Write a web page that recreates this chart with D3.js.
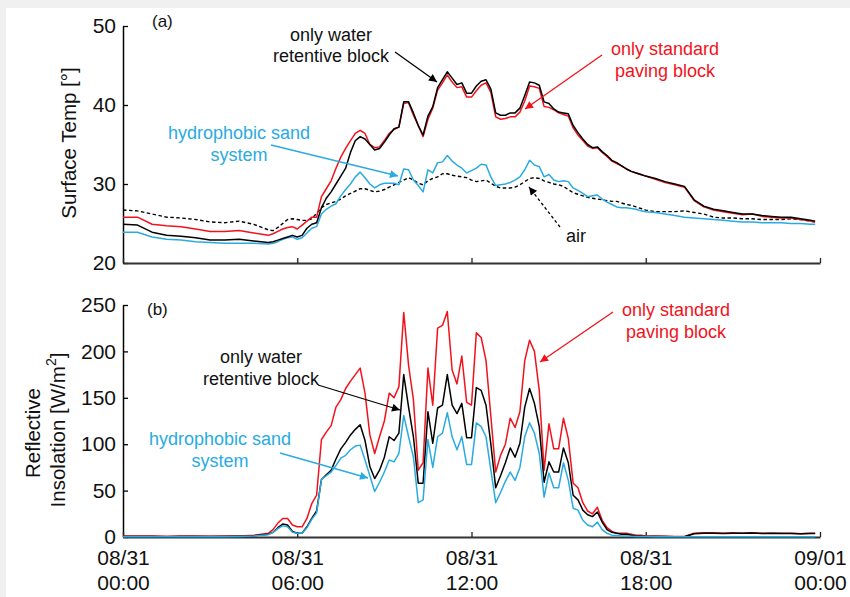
<!DOCTYPE html>
<html><head><meta charset="utf-8">
<script src="https://cdn.jsdelivr.net/npm/d3@7/dist/d3.min.js"></script>
<style>
html,body{margin:0;padding:0;background:#f0f0f0;}
svg{display:block;font-family:"Liberation Sans",Arial,Helvetica,sans-serif;}
</style></head>
<body>
<svg id="chart" width="850" height="597"></svg>
<script>
// time in minutes from 08/31 00:00
const times = [0,30,60,90,120,150,180,210,240,270,
 300,310,320,330,340,350,360,370,380,390,400,410,420,430,440,450,460,470,
 480,490,500,510,520,530,540,550,560,570,580,590,600,610,620,630,640,650,
 660,670,680,690,700,710,720,730,740,750,760,770,780,790,800,810,820,830,
 840,850,860,870,880,890,900,910,920,930,940,950,960,970,980,990,1000,1010,
 1020,1030,1040,1050,1060,1070,1080,
 1100,1120,1140,1160,1180,1200,1220,1240,1260,1280,1300,1320,1340,1360,1380,1400,1420,1430];

// (a) surface temperature
const surfStd = [25.8,25.8,24.9,24.7,24.6,24.3,24.0,24.0,24.1,23.8,
 23.5,23.7,24.0,24.3,24.5,24.6, 24.3,24.8,25.3,25.8,25.8,28.4,
 29.4,30.4,32.0,33.4,34.5,35.5, 36.4,36.8,36.4,35.0,34.6,34.7,
 35.5,36.4,36.9,37.2,40.2,40.3, 38.7,37.4,36.0,38.2,39.6,41.9,
 42.8,43.8,42.9,42.2,42.3,41.0, 41.0,41.8,42.5,42.8,41.6,38.5,
 38.2,38.3,38.5,38.5,39.1,40.5, 42.4,42.3,42.1,39.8,39.7,39.4,
 39.0,38.8,38.6,37.1,36.2,35.5, 34.8,34.5,34.6,34.0,33.5,32.9,
 32.6,32.3,31.9,31.6,31.4,31.2, 31.0,
 30.6,30.2,29.9,29.6,27.9,27.1,26.7,26.5,26.3,26.1,26.2,25.9,25.8,25.7,25.7,25.5,25.3,25.2];
const surfWater = [24.9,24.8,23.9,23.5,23.4,23.2,22.9,22.9,23.0,22.8,
 22.6,22.7,22.9,23.1,23.3,23.5, 23.3,23.5,24.4,24.9,25.1,27.0,
 28.2,29.0,30.0,31.0,32.0,34.0, 35.5,36.0,35.7,35.0,34.3,34.5,
 35.3,36.2,37.0,37.2,40.4,40.4, 39.0,37.4,36.2,38.6,39.8,42.2,
 43.2,44.2,43.4,42.6,42.8,41.5, 41.5,42.4,43.0,43.2,42.0,39.0,
 38.7,38.7,39.0,39.0,39.6,41.2, 42.9,42.8,42.5,40.4,40.2,39.5,
 39.1,39.0,38.9,37.4,36.5,35.7, 35.0,34.6,34.7,34.1,33.6,33.0,
 32.7,32.3,31.9,31.6,31.4,31.2, 31.0,
 30.7,30.3,30.0,29.7,28.0,27.2,26.8,26.6,26.4,26.2,26.2,26.0,25.9,25.8,25.8,25.6,25.4,25.3];
const surfSand = [23.9,23.9,23.3,23.0,22.9,22.7,22.6,22.5,22.5,22.5,
 22.4,22.5,22.7,23.0,23.2,23.3, 23.0,23.2,23.8,24.4,24.6,26.2,
 26.8,27.2,27.5,28.5,29.3,30.0, 30.9,31.5,30.8,30.0,29.5,29.9,
 30.1,30.1,30.1,29.9,31.9,31.8, 30.5,29.8,29.0,31.8,31.4,32.7,
 32.8,33.6,32.9,32.4,32.0,31.4, 31.7,32.0,32.5,32.4,30.9,29.8,
 29.9,30.0,30.2,30.5,30.9,31.8, 33.0,32.4,32.2,30.9,31.2,30.5,
 30.3,30.4,30.3,29.5,29.2,28.8, 28.4,28.5,28.6,28.1,27.7,27.4,
 27.1,27.0,27.0,26.9,26.8,26.6, 26.5,
 26.4,26.2,26.0,25.8,25.7,25.6,25.5,25.4,25.3,25.2,25.2,25.1,25.1,25.1,25.0,25.0,24.9,24.9];
const airTemp = [26.7,26.6,26.2,25.8,25.7,25.5,25.2,25.1,25.3,24.9,
 24.2,24.1,24.5,25.0,25.5,25.6, 25.5,25.4,25.4,25.6,26.3,27.0,
 27.4,27.6,27.8,28.1,28.5,28.8, 29.1,29.4,29.4,29.2,29.0,29.1,
 29.3,29.6,29.9,30.2,30.5,30.8, 30.5,30.1,29.9,30.4,30.7,30.9,
 31.3,31.3,31.1,31.0,30.9,30.8, 30.5,30.3,30.4,30.5,30.1,29.7,
 29.5,29.5,29.5,29.6,29.9,30.3, 30.7,30.8,30.7,30.4,30.2,30.0,
 29.9,29.7,29.3,28.9,28.7,28.5, 28.3,28.2,28.1,28.0,27.9,27.8,
 27.8,27.6,27.4,27.3,27.1,26.9, 26.7,
 26.5,26.5,26.5,26.6,26.4,26.2,25.8,25.7,25.7,25.6,25.6,25.5,25.5,25.5,25.6,25.5,25.3,25.2];

// (b) reflective insolation
const reflStd = [1,1.2,1,0.8,1,1,0.8,1,1.2,1.8,
 4,8,15,20,20,13, 11,11,20,36,45,105,
 113,120,140,148,160,168, 175,182,155,110,90,108,
 125,155,150,162,242,185, 148,72,80,182,142,225,
 228,243,180,165,195,145, 142,220,215,190,130,70,
 88,100,128,118,135,190, 212,200,158,72,122,95,
 95,128,106,58,53,37, 28,25,32,18,10,6,
 4,4,4,3,2,2, 1,
 1,0.8,0.5,0.5,4,4.5,4.5,4,4.5,4,4.5,4,4,4,4,3.5,4,4];
const reflWater = [0.5,0.6,0.5,0.4,0.5,0.5,0.5,0.6,0.8,1.2,
 3,5,10,14,13,6, 4,4,11,20,28,62,
 67,72,84,95,102,110, 116,121,104,76,63,72,
 86,108,104,112,175,140, 108,58,58,135,101,139,
 142,175,142,133,144,107, 107,161,158,142,100,53,
 66,80,96,86,101,140, 160,144,119,59,81,70,
 70,96,80,45,40,29, 24,22,27,16,8,5,
 4,3,3,2,1,1, 0.5,
 0.5,0.5,0.3,0.3,3.5,4,4,3.8,4,4,4.2,3.8,4,3.8,3.8,3.5,3.8,3.8];
const reflSand = [0.3,0.3,0.3,0.3,0.3,0.3,0.3,0.4,0.6,1,
 2.5,5,9,12,11,5, 4,4,10,19,26,62,
 66,70,77,85,88,94, 98,99,83,66,49,59,
 70,83,81,90,131,108, 86,37,40,105,75,108,
 112,134,108,94,108,78, 78,123,119,108,72,37,
 48,60,70,61,75,108, 123,112,90,43,69,53,
 53,80,61,31,29,18, 13,11,16,8,4,2,
 1.5,1,1,0.8,0.6,0.5, 0.5,
 0.3,0.3,0.3,0.3,0.3,0.3,0.3,0.3,0.3,0.3,0.3,0.3,0.3,0.3,0.3,0.3,0.3,0.3];

const xTicks = [0,360,720,1080,1440];
const xTickLabels = [["08/31","00:00"],["08/31","06:00"],["08/31","12:00"],["08/31","18:00"],["09/01","00:00"]];
const yTicksA = [20,30,40,50];
const yTicksB = [0,50,100,150,200,250];

const RED = "#f2121b", BLUE = "#29abe2", BLACK = "#000";
const FONT = "Liberation Sans, Arial, sans-serif";

const svg = d3.select("#chart");
svg.append("rect").attr("x",6).attr("y",8).attr("width",844).attr("height",589).attr("fill","#fff");

const x = d3.scaleLinear().domain([0,1440]).range([123,820]);
const yA = d3.scaleLinear().domain([20,50]).range([263,26]);
const yB = d3.scaleLinear().domain([0,250]).range([537,305]);

function axes(y, ticks, showX){
  const gy = svg.append("g").attr("transform","translate(123,0)")
    .call(d3.axisLeft(y).tickValues(ticks).tickSize(-5).tickSizeOuter(0).tickPadding(7));
  gy.select(".domain").attr("stroke","#000").attr("stroke-width",1.5);
  gy.selectAll(".tick line").attr("stroke","#000").attr("stroke-width",1.3);
  gy.selectAll(".tick text").attr("font-size",21).attr("fill","#111").attr("font-family",FONT);
  const y0 = y.range()[0];
  const gx = svg.append("g").attr("transform",`translate(0,${y0})`)
    .call(d3.axisBottom(x).tickValues(xTicks).tickSize(-5).tickSizeOuter(0).tickFormat(()=>""));
  gx.select(".domain").attr("stroke","#333").attr("stroke-width",2);
  gx.selectAll(".tick line").attr("stroke","#222").attr("stroke-width",1.3);
  if(showX){
    gx.selectAll(".tick").each(function(d,i){
      const t = d3.select(this).append("text").attr("fill","#111").attr("font-size",21)
        .attr("text-anchor","middle").attr("font-family",FONT);
      t.append("tspan").attr("x",0).attr("y",28).text(xTickLabels[i][0]);
      t.append("tspan").attr("x",0).attr("y",53).text(xTickLabels[i][1]);
    });
  }
}
axes(yA, yTicksA, false);
axes(yB, yTicksB, true);

function drawLine(series, y, color, dash, w){
  const line = d3.line().x((d,i)=>x(times[i])).y(d=>y(d));
  svg.append("path").datum(series).attr("d",line).attr("fill","none")
    .attr("stroke",color).attr("stroke-width",w||1.5).attr("stroke-linejoin","round")
    .attr("stroke-dasharray",dash||null);
}
drawLine(airTemp, yA, BLACK, "3.5,2.5", 1.4);
drawLine(surfSand, yA, BLUE);
drawLine(surfStd, yA, RED);
drawLine(surfWater, yA, BLACK);

drawLine(reflStd, yB, RED);
drawLine(reflWater, yB, BLACK);
drawLine(reflSand, yB, BLUE);

// axis titles
svg.append("text").attr("transform","translate(76,143) rotate(-90)").attr("text-anchor","middle")
  .attr("font-size",20.5).attr("fill","#111").text("Surface Temp [°]");
svg.append("text").attr("transform","translate(40,433) rotate(-90)").attr("text-anchor","middle")
  .attr("font-size",20.5).attr("fill","#111").text("Reflective");
const t2 = svg.append("text").attr("transform","translate(65,430) rotate(-90)").attr("text-anchor","middle")
  .attr("font-size",20.5).attr("fill","#111");
t2.append("tspan").text("Insolation [W/m");
t2.append("tspan").attr("font-size",14).attr("dy",-9).text("2");
t2.append("tspan").attr("dy",9).text("]");

// panel labels
svg.append("text").attr("x",152).attr("y",27).attr("font-size",17).attr("fill","#111").text("(a)");
svg.append("text").attr("x",147).attr("y",315).attr("font-size",17).attr("fill","#111").text("(b)");

// annotations
function label(lines, cx, ys, color){
  lines.forEach((s,i)=>svg.append("text").attr("x",cx[i]).attr("y",ys[i]).attr("text-anchor","middle")
    .attr("font-size",18).attr("fill",color).text(s));
}
const defs = svg.append("defs");
function marker(id, color){
  defs.append("marker").attr("id",id).attr("viewBox","0 0 10 10").attr("refX",10).attr("refY",5)
    .attr("markerWidth",11).attr("markerHeight",8).attr("markerUnits","userSpaceOnUse").attr("orient","auto")
    .append("path").attr("d","M0,0 L10,5 L0,10 Z").attr("fill",color);
}
marker("mk",BLACK); marker("mr",RED); marker("mb",BLUE);
function arrow(x1,y1,x2,y2,color,id,dash){
  svg.append("line").attr("x1",x1).attr("y1",y1).attr("x2",x2).attr("y2",y2)
    .attr("stroke",color).attr("stroke-width",1.3).attr("stroke-dasharray",dash||null)
    .attr("marker-end",`url(#${id})`);
}

label(["only water","retentive block"],[331,331],[41,62],"#111");
arrow(395,52,437,82,BLACK,"mk");
label(["only standard","paving block"],[665,665],[55,77],RED);
arrow(602,55,525,109,RED,"mr");
label(["hydrophobic sand","system"],[239,239],[139,161],BLUE);
arrow(271,145,398,176,BLUE,"mb");
svg.append("text").attr("x",566).attr("y",242).attr("font-size",18).attr("fill","#111").text("air");
arrow(560,227,529,187,BLACK,"mk","3,2.5");

label(["only standard","paving block"],[676,676],[316,338],RED);
arrow(613,312,540,362,RED,"mr");
label(["only water","retentive block"],[261,261],[363,385],"#111");
arrow(318,385,400,410,BLACK,"mk");
label(["hydrophobic sand","system"],[220,220],[445,467],BLUE);
arrow(280,453,368,478,BLUE,"mb");
</script>
</body></html>
